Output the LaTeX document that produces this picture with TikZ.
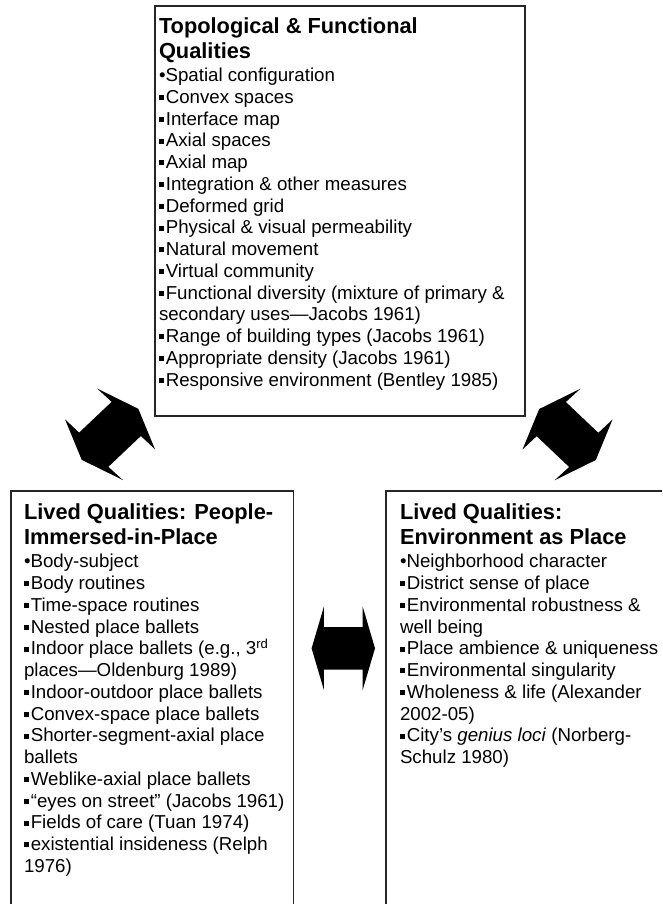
\documentclass[tikz,border=0pt]{standalone}
\usepackage{fontspec}
\setmainfont{Liberation Sans}
\newcommand{\sqb}{\raisebox{3.4pt}{\rule{4.8pt}{4.8pt}}\hspace{2pt}}
\newcommand{\rb}{•}
\newcommand{\blockarrow}[4]{%
  \fill[black] ({-#1},0) -- ({-#1+#2},{-#3}) -- ({-#1+#2},{-#4}) -- ({#1-#2},{-#4}) -- ({#1-#2},{-#3}) -- ({#1},0)
    -- ({#1-#2},{#3}) -- ({#1-#2},{#4}) -- ({-#1+#2},{#4}) -- ({-#1+#2},{#3}) -- cycle;}
\newcommand{\slantarrow}{%
  \fill[black] (28.3,-25.5) -- (-13,-45.85) -- (1.65,-32.5) -- (-30.85,-1.7) -- (-45,-15) -- (-28.3,25.5)
    -- (13,45.85) -- (-1.65,32.5) -- (30.85,1.7) -- (45,15) -- cycle;}
\newcommand{\titleblk}[1]{\vtop{\hsize=420pt\parindent=0pt\parskip=0pt\fontsize{21.8}{25}\selectfont\bfseries #1}}
\newcommand{\bodyblk}[1]{\vtop{\hsize=420pt\parindent=0pt\parskip=0pt\fontsize{18.7}{21.75}\selectfont #1}}
\begin{document}
\begin{tikzpicture}[x=1pt,y=-1pt,
  box/.style={draw=black!85, line width=1.2pt, inner sep=0pt, outer sep=0pt, anchor=north west},
  txt/.style={anchor=base west, inner sep=0pt, outer sep=0pt}]
\useasboundingbox (0,0) rectangle (662,904);
\clip (0,0) rectangle (662,904);
% boxes
\node[box, minimum width=370pt, minimum height=410pt] (topbox) at (155,6) {};
\node[box, minimum width=282.5pt, minimum height=440pt] (leftbox) at (11,491) {};
\node[box, minimum width=300pt, minimum height=440pt] (rightbox) at (386,491) {};
% top box text
\node[txt] (toptitle) at (159,33.3) {\titleblk{Topological \& Functional\par Qualities}};
\node[txt] (topbody) at (159,81.7) {\bodyblk{%
\rb Spatial configuration\par
\sqb Convex spaces\par
\sqb Interface map\par
\sqb Axial spaces\par
\sqb Axial map\par
\sqb Integration \& other measures\par
\sqb Deformed grid\par
\sqb Physical \& visual permeability\par
\sqb Natural movement\par
\sqb Virtual community\par
\sqb Functional diversity (mixture of primary \&\par
secondary uses—Jacobs 1961)\par
\sqb Range of building types (Jacobs 1961)\par
\sqb Appropriate density (Jacobs 1961)\par
\sqb Responsive environment (Bentley 1985)}};
% left box text
\node[txt] (lefttitle) at (24,519.5) {\titleblk{Lived Qualities: People-\par Immersed-in-Place}};
\node[txt] (leftbody) at (24,567.9) {\bodyblk{%
\rb Body-subject\par
\sqb Body routines\par
\sqb Time-space routines\par
\sqb Nested place ballets\par
\sqb Indoor place ballets (e.g., 3\textsuperscript{rd}\par
places—Oldenburg 1989)\par
\sqb Indoor-outdoor place ballets\par
\sqb Convex-space place ballets\par
\sqb Shorter-segment-axial place\par
ballets\par
\sqb Weblike-axial place ballets\par
\sqb “eyes on street” (Jacobs 1961)\par
\sqb Fields of care (Tuan 1974)\par
\sqb existential insideness (Relph\par
1976)}};
% right box text
\node[txt] (righttitle) at (400,519.5) {\titleblk{Lived Qualities:\par Environment as Place}};
\node[txt] (rightbody) at (400,567.9) {\bodyblk{%
\rb Neighborhood character\par
\sqb District sense of place\par
\sqb Environmental robustness \&\par
well being\par
\sqb Place ambience \& uniqueness\par
\sqb Environmental singularity\par
\sqb Wholeness \& life (Alexander\par
2002-05)\par
\sqb City's \textit{genius loci} (Norberg-\par
Schulz 1980)}};
% block arrows
\begin{scope}[shift={(110,434.3)}]
  \slantarrow
\end{scope}
\begin{scope}[shift={(567.5,434.5)},xscale=-1]
  \slantarrow
\end{scope}
\begin{scope}[shift={(343.3,648.3)}]
  \blockarrow{31.7}{12.3}{41.7}{21.2}
\end{scope}
\end{tikzpicture}
\end{document}
